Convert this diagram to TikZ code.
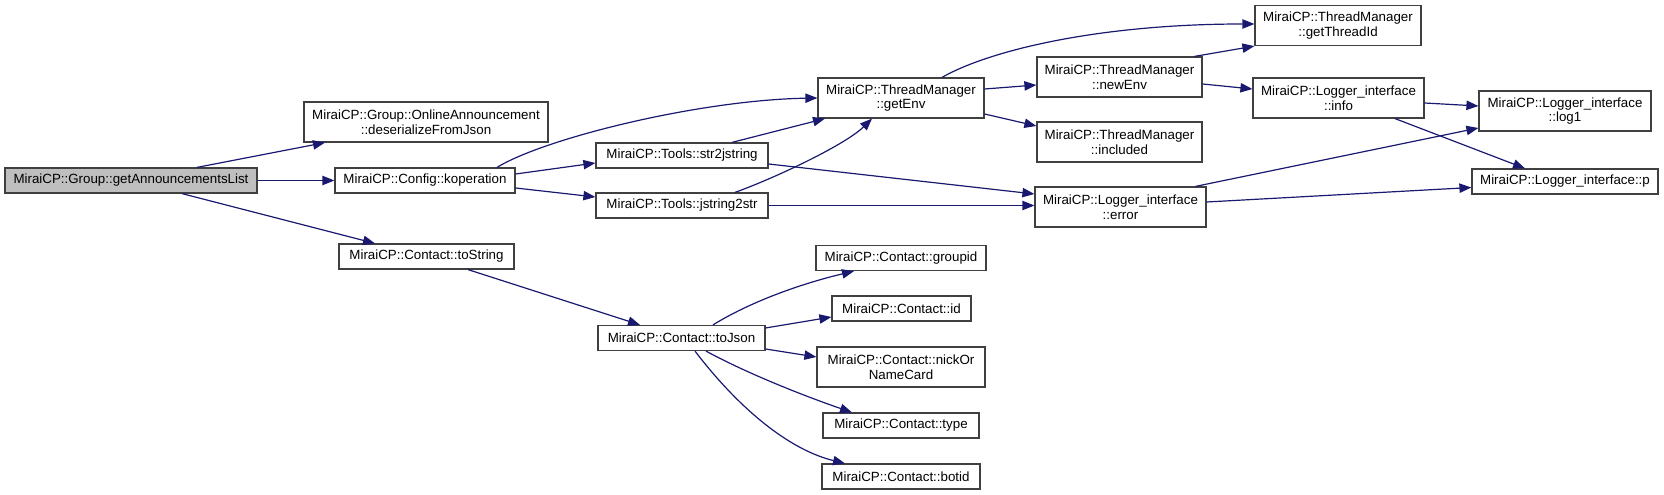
\documentclass[tikz,border=0pt]{standalone}
\usepackage{fontspec}
\setmainfont{Liberation Sans}
\usetikzlibrary{arrows.meta,calc}
\definecolor{edgec}{HTML}{191970}
\definecolor{boxc}{HTML}{404040}
\definecolor{rootc}{HTML}{BFBFBF}
\begin{document}
\begin{tikzpicture}[x=0.75pt,y=-0.75pt,
  box/.style={draw=boxc, line width=0.9pt, fill=white, inner sep=0pt, align=center,
    font=\fontsize{10}{11}\selectfont},
  sz/.style 2 args={minimum width=#1*0.75pt, minimum height=#2*0.75pt},
  edge/.style={draw=edgec, line width=0.9pt, -{Triangle[length=9pt,width=7pt]}}]
\useasboundingbox (0,0) rectangle (1664,495);

% nodes
\node[box, sz={252}{25}, fill=rootc] (A) at (131,180.5) {MiraiCP::Group::getAnnouncementsList};
\node[box, sz={244}{40}] (B) at (426,122) {MiraiCP::Group::OnlineAnnouncement\\::deserializeFromJson};
\node[box, sz={180}{25}] (C) at (425,180.5) {MiraiCP::Config::koperation};
\node[box, sz={172}{25}] (D) at (682,155.5) {MiraiCP::Tools::str2jstring};
\node[box, sz={172}{25}] (E) at (682,205.5) {MiraiCP::Tools::jstring2str};
\node[box, sz={166}{40}] (F) at (901,98) {MiraiCP::ThreadManager\\::getEnv};
\node[box, sz={166}{40}] (G) at (1338,25.5) {MiraiCP::ThreadManager\\::getThreadId};
\node[box, sz={165}{40}] (H) at (1119.5,77) {MiraiCP::ThreadManager\\::newEnv};
\node[box, sz={165}{40}] (I) at (1119.5,142) {MiraiCP::ThreadManager\\::included};
\node[box, sz={171}{40}] (J) at (1338.5,98) {MiraiCP::Logger\_interface\\::info};
\node[box, sz={172}{40}] (K) at (1565,111) {MiraiCP::Logger\_interface\\::log1};
\node[box, sz={171}{40}] (L) at (1120.5,207) {MiraiCP::Logger\_interface\\::error};
\node[box, sz={186}{25}] (M) at (1565,181.5) {MiraiCP::Logger\_interface::p};
\node[box, sz={175}{25}] (N) at (426.5,256.5) {MiraiCP::Contact::toString};
\node[box, sz={167}{25}] (O) at (681.5,338) {MiraiCP::Contact::toJson};
\node[box, sz={170}{25}] (P) at (901,258) {MiraiCP::Contact::groupid};
\node[box, sz={139}{25}] (Q) at (901.5,308.5) {MiraiCP::Contact::id};
\node[box, sz={168}{40}] (R) at (901,367) {MiraiCP::Contact::nickOr\\NameCard};
\node[box, sz={156}{25}] (S) at (901,425.5) {MiraiCP::Contact::type};
\node[box, sz={158}{25}] (T) at (901,476.5) {MiraiCP::Contact::botid};

% edges
\draw[edge] ($(A.north)+(66,0)$) -- ($(B.south)+(-101,0)$);
\draw[edge] (A.east) -- (C.west);
\draw[edge] ($(A.south)+(51,0)$) -- ($(N.north)+(-51.5,0)$);
\draw[edge] ($(C.north)+(72,0)$) .. controls (545,138) and (700,100) .. (F.west);
\draw[edge] ($(C.east)+(0,-6.5)$) -- ($(D.west)+(0,7.5)$);
\draw[edge] ($(C.east)+(0,7.5)$) -- ($(E.west)+(0,-8.5)$);
\draw[edge] ($(D.north)+(50,0)$) -- ($(F.south)+(-76,0)$);
\draw[edge] ($(E.north)+(53,0)$) .. controls (775,178) and (845,145) .. ($(F.south)+(-29,0)$);
\draw[edge] ($(D.east)+(0,8.5)$) -- ($(L.west)+(0,-13)$);
\draw[edge] (E.east) -- (E.east -| L.west);
\draw[edge] ($(F.north)+(41,0)$) .. controls (990,50) and (1100,24) .. ($(G.west)+(0,-1.5)$);
\draw[edge] ($(F.east)+(0,-9)$) -- ($(H.west)+(0,8)$);
\draw[edge] ($(F.east)+(0,16)$) -- ($(I.west)+(0,-16)$);
\draw[edge] ($(H.north)+(75,0)$) -- (G.south west);
\draw[edge] ($(H.east)+(0,7)$) -- ($(J.west)+(0,-9)$);
\draw[edge] ($(J.east)+(0,5)$) -- ($(K.west)+(0,-5)$);
\draw[edge] ($(J.south)+(56.5,0)$) -- ($(M.north)+(-40,0)$);
\draw[edge] ($(L.north)+(75,0)$) -- ($(K.west)+(0,17)$);
\draw[edge] ($(L.east)+(0,-5)$) -- ($(M.west)+(0,6)$);
\draw[edge] ($(N.south)+(41.5,0)$) -- ($(O.north)+(-41.5,0)$);
\draw[edge] ($(O.north)+(31.5,0)$) .. controls (750,302) and (800,284) .. ($(P.south)+(-47,0)$);
\draw[edge] ($(O.east)+(0,-10)$) -- ($(Q.west)+(0,8.5)$);
\draw[edge] ($(O.east)+(0,11)$) -- ($(R.west)+(0,-10)$);
\draw[edge] ($(O.south)+(24.5,0)$) .. controls (750,375) and (810,398) .. ($(S.north)+(-49,0)$);
\draw[edge] ($(O.south)+(13.5,0)$) .. controls (740,410) and (790,450) .. ($(T.north)+(-56,0)$);
\end{tikzpicture}
\end{document}
